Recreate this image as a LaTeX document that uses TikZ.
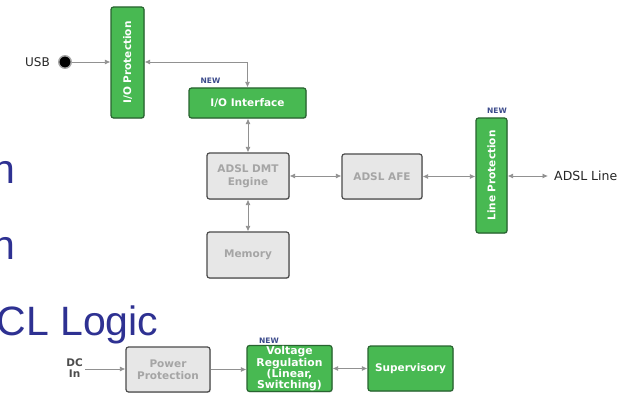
\documentclass[tikz,border=0pt]{standalone}
\usepackage{fontspec}
\setmainfont{Liberation Sans}
\newfontfamily\dvfont{DejaVu Sans}
\usetikzlibrary{arrows.meta,shadows}

\definecolor{slideblue}{RGB}{46,49,146}
\definecolor{blkgreen}{RGB}{72,185,82}
\definecolor{blkgreenedge}{RGB}{40,100,48}
\definecolor{blkgray}{RGB}{231,231,231}
\definecolor{blkgrayedge}{RGB}{75,75,75}
\definecolor{blkgraytext}{RGB}{165,165,165}
\definecolor{wiregray}{RGB}{145,145,145}
\definecolor{newblue}{RGB}{60,75,140}

\tikzset{
  block/.style={rectangle, rounded corners=2.5pt, line width=1.2pt, inner sep=0pt,
    align=center, font=\dvfont\bfseries\fontsize{10.5}{12.5}\selectfont,
    drop shadow={shadow xshift=0.8pt, shadow yshift=-0.8pt, opacity=0.3}},
  greenblk/.style={block, fill=blkgreen, draw=blkgreenedge, text=white},
  grayblk/.style={block, fill=blkgray, draw=blkgrayedge, text=blkgraytext},
  wire/.style={draw=wiregray, line width=0.8pt, -{Latex[length=5.5pt,width=5pt]}},
  biwire/.style={wire, {Latex[length=5.5pt,width=5pt]}-{Latex[length=5.5pt,width=5pt]}},
  newtag/.style={font=\dvfont\bfseries\fontsize{7.5}{8}\selectfont, text=newblue, inner sep=0pt},
  slidetext/.style={font=\fontsize{41}{41}\selectfont, text=slideblue, inner sep=0pt},
  labeltext/.style={font=\dvfont\fontsize{12}{13}\selectfont, text=black!85, inner sep=0pt}
}

\begin{document}
\begin{tikzpicture}[x=1pt, y=-1pt]
  \useasboundingbox[fill=white] (0,0) rectangle (638,396);

  % slide text behind the diagram
  \node[slidetext, anchor=base east] (txta) at (15.5,183) {n};
  \node[slidetext, anchor=base east] (txtb) at (15.5,259) {n};
  \node[slidetext, anchor=base east] (txtc) at (158.5,335) {CL Logic};

  % USB input
  \node[labeltext, anchor=east] (usb) at (50,62) {USB};
  \node[circle, fill=black, draw=gray!70, line width=1.4pt, minimum size=12.5pt, inner sep=0pt] (jack) at (65,62) {};

  % upper signal chain
  \node[greenblk, minimum width=33pt, minimum height=111pt] (iop) at (127.5,62.5)
    {\rotatebox{90}{I/O Protection}};
  \node[greenblk, minimum width=117pt, minimum height=30pt] (ioi) at (247.5,103) {I/O Interface};
  \node[grayblk, minimum width=82pt, minimum height=46pt] (eng) at (248,176) {ADSL DMT\\Engine};
  \node[grayblk, minimum width=80pt, minimum height=45pt] (afe) at (382,176.5) {ADSL AFE};
  \node[grayblk, minimum width=82pt, minimum height=46pt] (mem) at (248,255) {Memory};
  \node[greenblk, minimum width=31pt, minimum height=115pt] (lp) at (491.5,175.5)
    {\rotatebox{90}{Line Protection}};
  \coordinate (lineend) at (548,176);
  \node[labeltext, font=\dvfont\fontsize{12.5}{13}\selectfont, anchor=west] (adsl) at (554,176) {ADSL Line};

  % power chain
  \node[labeltext, align=center, font=\dvfont\bfseries\fontsize{10.5}{11}\selectfont, text=black!70, anchor=east] (dcin) at (83,368) {DC\\In};
  \node[grayblk, minimum width=84pt, minimum height=45pt] (pp) at (168,369.5) {Power\\Protection};
  \node[greenblk, minimum width=85pt, minimum height=46pt,
        font=\dvfont\bfseries\fontsize{10.8}{10.5}\selectfont] (vr) at (289.5,368.5)
    {Voltage\\Regulation\\(Linear,\\Switching)};
  \node[greenblk, minimum width=85pt, minimum height=45pt] (sup) at (410.5,368.5) {Supervisory};

  % NEW tags
  \node[newtag] (newa) at (210.5,81) {NEW};
  \node[newtag] (newb) at (497,111) {NEW};
  \node[newtag] (newc) at (269,340.5) {NEW};

  % connectors
  \draw[wire] (jack.east) -- (iop.west |- jack);
  \draw[biwire] (iop.east |- jack) -| (ioi.north);
  \draw[biwire] (ioi.south -| eng) -- (eng.north);
  \draw[biwire] (eng.south) -- (mem.north);
  \draw[biwire] (eng.east) -- (eng.east -| afe.west);
  \draw[biwire] (afe.east) -- (afe.east -| lp.west);
  \draw[biwire] (lp.east |- lineend) -- (lineend);
  \draw[wire] (dcin.east) ++(2,1) coordinate (dcout) -- (dcout -| pp.west);
  \draw[wire] (pp.east) -- (pp.east -| vr.west);
  \draw[biwire] (vr.east |- sup) -- (sup.west);
\end{tikzpicture}
\end{document}
